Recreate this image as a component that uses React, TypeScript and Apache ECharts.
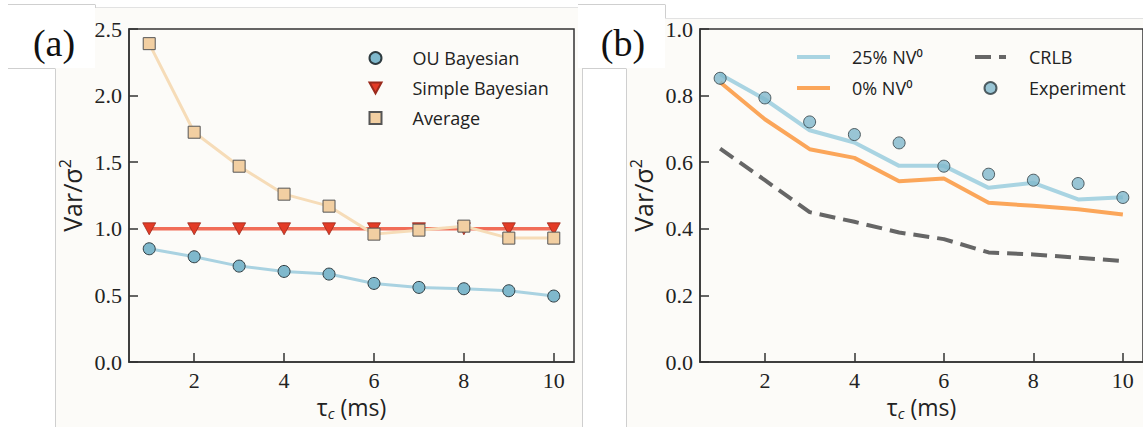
import React, { useEffect, useRef } from "react";
import * as echarts from "echarts";

// ---------- data ----------
const tau = [1, 2, 3, 4, 5, 6, 7, 8, 9, 10];
const ouBayesian = [0.85, 0.79, 0.72, 0.68, 0.66, 0.59, 0.56, 0.55, 0.535, 0.495];
const simpleBayesian = [1.0, 1.0, 1.0, 1.0, 1.0, 1.0, 1.0, 1.0, 1.0, 1.0];
const average = [2.39, 1.725, 1.47, 1.26, 1.17, 0.96, 0.99, 1.02, 0.93, 0.93];
const nv25 = [0.864, 0.789, 0.696, 0.659, 0.589, 0.589, 0.523, 0.538, 0.488, 0.495];
const nv0 = [0.84, 0.729, 0.639, 0.613, 0.543, 0.551, 0.478, 0.469, 0.459, 0.443];
const crlb = [0.641, 0.546, 0.45, 0.421, 0.389, 0.369, 0.329, 0.323, 0.313, 0.303];
const experiment = [0.852, 0.793, 0.721, 0.683, 0.658, 0.588, 0.564, 0.546, 0.536, 0.494];
const xTicks = [2, 4, 6, 8, 10];
const yMaxA = 2.5;
const yStepA = 0.5;
const yMaxB = 1.0;
const yStepB = 0.2;

const pairs = (ys: number[]) => tau.map((t, i) => [t, ys[i]]);

const SERIF = "'Liberation Serif', 'DejaVu Serif', serif";
const SANS = "'Open Sans', 'Noto Sans', sans-serif";
const TRI_DOWN = "path://M0,0L10,0L5,9Z";

function makeXAxis(gridIndex: number) {
  return {
    type: "value",
    gridIndex,
    min: 0.55,
    max: 10.45,
    axisLine: { show: true, lineStyle: { color: "#333", width: 1.5 } },
    axisTick: {
      show: true,
      inside: true,
      length: 9,
      customValues: xTicks,
      lineStyle: { color: "#333", width: 1.5 },
    },
    axisLabel: {
      customValues: xTicks,
      margin: 7,
      fontFamily: SERIF,
      fontSize: 22,
      color: "#222",
    },
    splitLine: { show: false },
    name: "{t|τ}{s|c}{t| (ms)}",
    nameLocation: "middle",
    nameGap: 31,
    nameTextStyle: {
      rich: {
        t: { fontFamily: SANS, fontSize: 23, color: "#222", lineHeight: 27 },
        s: {
          fontFamily: SANS,
          fontSize: 15,
          fontStyle: "italic",
          color: "#222",
          lineHeight: 15,
          verticalAlign: "bottom",
        },
      },
    },
  };
}

function makeYAxis(gridIndex: number, max: number, step: number) {
  return {
    type: "value",
    gridIndex,
    min: 0,
    max,
    interval: step,
    axisLine: { show: true, lineStyle: { color: "#333", width: 1.5 } },
    axisTick: { show: true, inside: true, length: 9, lineStyle: { color: "#333", width: 1.5 } },
    axisLabel: {
      margin: 7,
      fontFamily: SERIF,
      fontSize: 22,
      color: "#222",
      formatter: (v: number) => v.toFixed(1),
    },
    splitLine: { show: false },
    name: "{v|Var/σ}{p|2}",
    nameLocation: "middle",
    nameGap: 42,
    nameTextStyle: {
      rich: {
        v: { fontFamily: SANS, fontSize: 25, color: "#222", lineHeight: 30 },
        p: {
          fontFamily: SANS,
          fontSize: 16,
          color: "#222",
          lineHeight: 16,
          verticalAlign: "top",
        },
      },
    },
  };
}

const bgLine = (x1: number, y1: number, x2: number, y2: number, color = "#cfcfcf") => ({
  type: "line",
  shape: { x1, y1, x2, y2 },
  style: { stroke: color, lineWidth: 1 },
  silent: true,
});
const whiteRect = (x: number, y: number, width: number, height: number) => ({
  type: "rect",
  shape: { x, y, width, height },
  style: { fill: "#ffffff" },
  silent: true,
});

export default function App() {
  const ref = useRef<HTMLDivElement>(null);

  useEffect(() => {
    if (!ref.current) return;
    const chart = echarts.init(ref.current, undefined, { renderer: "svg" });
    const circleStyle = { color: "#7fb8cc", borderColor: "#2e3b40", borderWidth: 1 };
    const legendText = (pad: number) => ({
      fontFamily: SANS,
      fontSize: 18,
      color: "#222",
      lineHeight: 20,
      padding: [0, 0, 0, pad],
    });

    chart.setOption({
      animation: false,
      backgroundColor: "#fcfbf8",
      graphic: [
        whiteRect(0, 0, 1143, 7.5),
        bgLine(95, 7.5, 578, 7.5, "#e2e2e2"),
        whiteRect(665, 0, 478, 18),
        bgLine(665, 18.5, 1143, 18.5, "#e2e2e2"),
        whiteRect(0, 0, 95, 68),
        bgLine(8, 4.5, 95, 4.5),
        bgLine(95.5, 4.5, 95.5, 8),
        whiteRect(0, 68, 55, 359),
        bgLine(8, 68.5, 55, 68.5),
        bgLine(55.5, 68.5, 55.5, 427),
        whiteRect(578, 0, 87, 68),
        bgLine(578, 4.5, 665, 4.5),
        bgLine(665.5, 4.5, 665.5, 18),
        whiteRect(582, 68, 44, 359),
        bgLine(582, 68.5, 626, 68.5),
        bgLine(582.5, 68.5, 582.5, 427),
        bgLine(626.5, 68.5, 626.5, 427),
        {
          type: "text",
          x: 54,
          y: 43,
          silent: true,
          style: {
            text: "(a)",
            fontFamily: SERIF,
            fontSize: 38,
            fill: "#111",
            align: "center",
            verticalAlign: "middle",
          },
        },
        {
          type: "text",
          x: 623,
          y: 43,
          silent: true,
          style: {
            text: "(b)",
            fontFamily: SERIF,
            fontSize: 38,
            fill: "#111",
            align: "center",
            verticalAlign: "middle",
          },
        },
      ],
      grid: [
        {
          left: 129,
          top: 29,
          width: 445,
          height: 333,
          show: true,
          borderColor: "#333",
          borderWidth: 1.5,
          backgroundColor: "transparent",
        },
        {
          left: 700,
          top: 29,
          width: 446,
          height: 333,
          show: true,
          borderColor: "#333",
          borderWidth: 1.5,
          backgroundColor: "transparent",
        },
      ],
      xAxis: [makeXAxis(0), makeXAxis(1)],
      yAxis: [makeYAxis(0, yMaxA, yStepA), makeYAxis(1, yMaxB, yStepB)],
      legend: [
        {
          orient: "vertical",
          left: 368.5,
          top: 48,
          padding: 0,
          itemWidth: 12,
          itemHeight: 12,
          itemGap: 10,
          textStyle: legendText(26),
          data: [
            { name: "OU Bayesian", icon: "circle" },
            { name: "Simple Bayesian", icon: TRI_DOWN },
            { name: "Average", icon: "rect" },
          ],
        },
        {
          orient: "vertical",
          left: 795,
          top: 47,
          padding: 0,
          itemWidth: 33,
          itemHeight: 12,
          itemGap: 11,
          lineStyle: { width: 4 },
          textStyle: legendText(17),
          data: [
            { name: "25% NV⁰", itemStyle: { opacity: 0 } },
            { name: "0% NV⁰", itemStyle: { opacity: 0 } },
          ],
        },
        {
          orient: "vertical",
          left: 973,
          top: 47,
          padding: 0,
          itemWidth: 31,
          itemHeight: 12,
          itemGap: 11,
          lineStyle: { width: 4 },
          textStyle: legendText(18),
          data: [{ name: "CRLB", itemStyle: { opacity: 0 } }, "Experiment"],
        },
      ],
      series: [
        {
          name: "OU Bayesian",
          type: "line",
          xAxisIndex: 0,
          yAxisIndex: 0,
          data: pairs(ouBayesian),
          symbol: "circle",
          symbolSize: 12,
          lineStyle: { color: "#a9d2e1", width: 3 },
          itemStyle: circleStyle,
          z: 3,
        },
        {
          name: "Simple Bayesian",
          type: "line",
          xAxisIndex: 0,
          yAxisIndex: 0,
          data: pairs(simpleBayesian),
          symbol: TRI_DOWN,
          symbolSize: [13, 12],
          lineStyle: { color: "rgba(238,84,60,0.85)", width: 3.5 },
          itemStyle: { color: "#e33b26", borderColor: "#9a2a1c", borderWidth: 0.8 },
          z: 4,
        },
        {
          name: "Average",
          type: "line",
          xAxisIndex: 0,
          yAxisIndex: 0,
          data: pairs(average),
          symbol: "rect",
          symbolSize: 12,
          lineStyle: { color: "#f6dcb8", width: 3 },
          itemStyle: { color: "#f2cfa2", borderColor: "#555", borderWidth: 1 },
          z: 5,
        },
        {
          name: "25% NV⁰",
          type: "line",
          xAxisIndex: 1,
          yAxisIndex: 1,
          data: pairs(nv25),
          symbol: "none",
          lineStyle: { color: "#a9d4e2", width: 4 },
          itemStyle: { color: "#a9d4e2" },
          z: 3,
        },
        {
          name: "0% NV⁰",
          type: "line",
          xAxisIndex: 1,
          yAxisIndex: 1,
          data: pairs(nv0),
          symbol: "none",
          lineStyle: { color: "#fba65a", width: 4 },
          itemStyle: { color: "#fba65a" },
          z: 3,
        },
        {
          name: "CRLB",
          type: "line",
          xAxisIndex: 1,
          yAxisIndex: 1,
          data: pairs(crlb),
          symbol: "none",
          lineStyle: { color: "#666666", width: 4, type: [16, 8] },
          itemStyle: { color: "#666666" },
          z: 3,
        },
        {
          name: "Experiment",
          type: "scatter",
          xAxisIndex: 1,
          yAxisIndex: 1,
          data: pairs(experiment),
          symbol: "circle",
          symbolSize: 12,
          itemStyle: circleStyle,
          z: 5,
        },
      ],
    });

    return () => chart.dispose();
  }, []);

  return (
    <div
      ref={ref}
      style={{ position: "fixed", left: 0, top: 0, width: 1143, height: 427 }}
    />
  );
}
